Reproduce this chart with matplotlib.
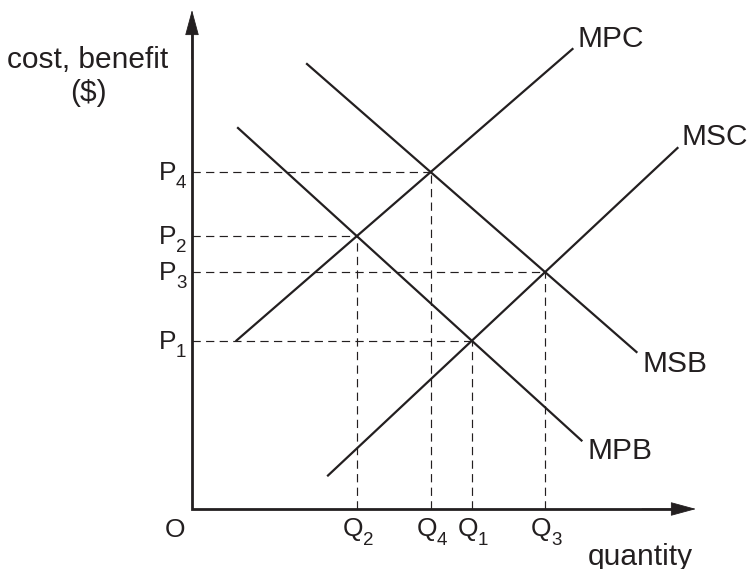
import numpy as np
import matplotlib.pyplot as plt

plt.rcParams['font.family'] = ['Liberation Sans', 'DejaVu Sans']

# Curvas: extremos de cada recta (unidades del gráfico)
curvas = ['MPC', 'MSC', 'MSB', 'MPB']
x_ini = [0.89, 2.72, 2.30, 0.92]
y_ini = [3.37, 0.67, 8.90, 7.62]
x_fin = [7.61, 9.71, 8.89, 7.79]
y_fin = [9.20, 7.22, 3.14, 1.37]

# Cruces: (curva de costo, curva de beneficio, subíndice)
cruces = [('MSC', 'MPB', '1'), ('MPC', 'MPB', '2'),
          ('MSC', 'MSB', '3'), ('MPC', 'MSB', '4')]

color = '#231f20'


def recta(nombre):
    i = curvas.index(nombre)
    m = (y_fin[i] - y_ini[i]) / (x_fin[i] - x_ini[i])
    return m, y_ini[i] - m * x_ini[i]


fig = plt.figure(figsize=(7.47, 5.69), dpi=100)
ax = fig.add_axes([0, 0, 1, 1])
ax.set_xlim(-3.84, 11.1)
ax.set_ylim(-1.2, 10.18)
ax.axis('off')

# Ejes con flechas
ax.plot([0, 0, 9.7], [9.6, 0, 0], color=color, lw=2, solid_joinstyle='miter')
flecha = dict(arrowstyle='-|>,head_length=1.66,head_width=0.45', mutation_scale=10,
              lw=0.6, color=color, shrinkA=0, shrinkB=0)
ax.annotate('', xy=(0, 9.98), xytext=(0, 9.0), arrowprops=flecha)
ax.annotate('', xy=(10.08, 0), xytext=(9.0, 0), arrowprops=flecha)

# Líneas punteadas de los equilibrios
for costo, beneficio, sub in cruces:
    m1, b1 = recta(costo)
    m2, b2 = recta(beneficio)
    xq = (b2 - b1) / (m1 - m2)
    yp = m1 * xq + b1
    ax.plot([0, xq], [yp, yp], color=color, lw=0.85, ls=(0, (7, 4.5)))
    ax.plot([xq, xq], [0, yp], color=color, lw=0.85, ls=(0, (7, 4.5)))
    # P
    ax.annotate('P', xy=(0, yp), xytext=(-11.5, -5.8), textcoords='offset points',
                ha='right', va='baseline', fontsize=19, color=color)
    ax.annotate(sub, xy=(0, yp), xytext=(-11.5, -11.8), textcoords='offset points',
                ha='left', va='baseline', fontsize=13.5, color=color)
    # Q
    ax.annotate('Q', xy=(xq, 0), xytext=(4.5, -19.4), textcoords='offset points',
                ha='right', va='baseline', fontsize=19, color=color)
    ax.annotate(sub, xy=(xq, 0), xytext=(4.5, -25.9), textcoords='offset points',
                ha='left', va='baseline', fontsize=13.5, color=color)

# Curvas y sus etiquetas
desfase = {'MPC': (3.6, 1.4), 'MSC': (3.2, 2.2), 'MSB': (4.3, -14.4), 'MPB': (4.3, -13)}
for i, nombre in enumerate(curvas):
    ax.plot([x_ini[i], x_fin[i]], [y_ini[i], y_fin[i]], color=color, lw=1.6)
    ax.annotate(nombre, xy=(x_fin[i], y_fin[i]), xytext=desfase[nombre],
                textcoords='offset points', ha='left', va='baseline',
                fontsize=21.5, color=color)

ax.annotate('O', xy=(0, 0), xytext=(-12.2, -20.2), textcoords='offset points',
            ha='center', va='baseline', fontsize=19, color=color)

fig.text(88 / 747, 1 - 68 / 569, 'cost, benefit', ha='center', va='baseline',
         fontsize=21.5, color=color)
fig.text(88 / 747, 1 - 101 / 569, '($)', ha='center', va='baseline',
         fontsize=21.5, color=color)
fig.text(640 / 747, 1 - 565 / 569, 'quantity', ha='center', va='baseline',
         fontsize=21.5, color=color)

fig.savefig('out.png', dpi=100)
